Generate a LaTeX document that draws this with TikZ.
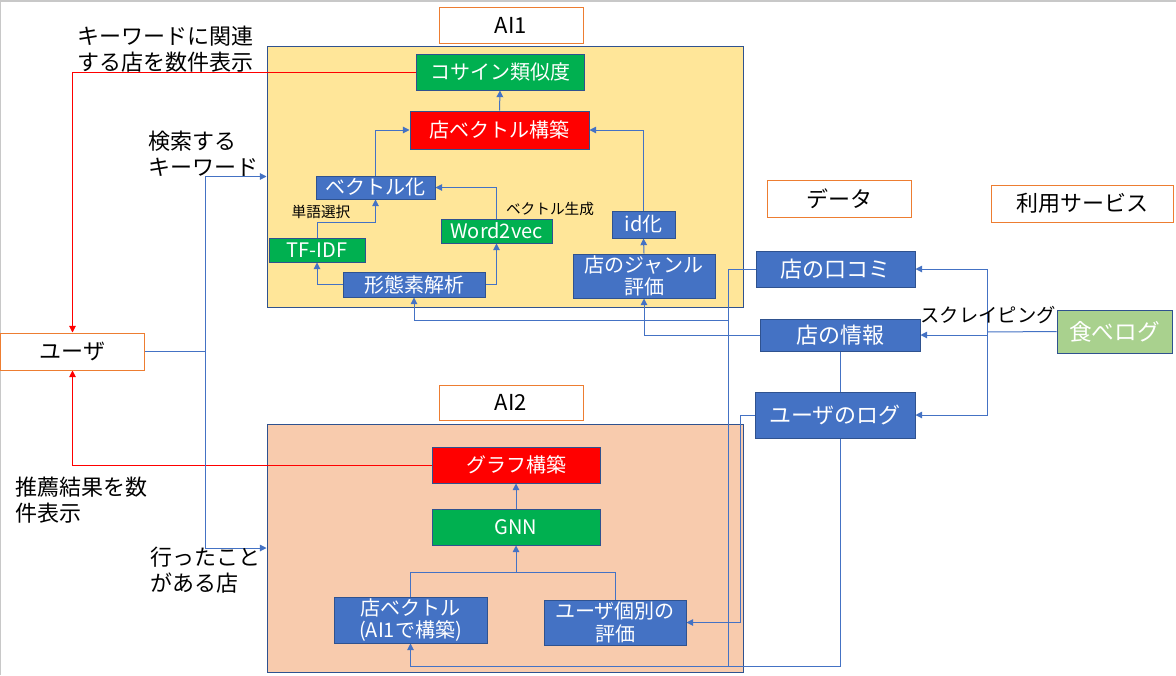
\documentclass[tikz,border=0pt]{standalone}
\usepackage{fontspec}
\setmainfont{Noto Sans CJK JP}
\usetikzlibrary{arrows.meta,calc}
\definecolor{boxblue}{HTML}{4472C4}
\definecolor{edgeblue}{HTML}{2F528F}
\definecolor{boxgreen}{HTML}{00B050}
\definecolor{boxred}{HTML}{FF0000}
\definecolor{lightgreen}{HTML}{A9D18E}
\definecolor{labelorange}{HTML}{ED7D31}
\definecolor{aionefill}{HTML}{FFE699}
\definecolor{aitwofill}{HTML}{F8CBAD}
\definecolor{framegray}{HTML}{C8C8C8}
\pgfdeclarelayer{bg}\pgfdeclarelayer{lines}\pgfsetlayers{bg,lines,main}
\begin{document}
\begin{tikzpicture}[x=0.75pt,y=-0.75pt,
 sz/.style 2 args={minimum width={(#1)*0.75pt},minimum height={(#2)*0.75pt}},
 base/.style={draw,inner sep=0pt,align=center,line width=0.75pt},
 procbox/.style={base,draw=edgeblue,fill=boxblue,text=white,font=\fontsize{15}{16}\selectfont},
 greenbox/.style={procbox,fill=boxgreen},
 redbox/.style={procbox,fill=boxred},
 databox/.style={procbox,font=\fontsize{16.5}{18}\selectfont},
 labelbox/.style={base,draw=labelorange,fill=white,text=black,font=\fontsize{16.5}{18}\selectfont},
 container/.style={base,draw=edgeblue},
 note/.style={inner sep=0pt,align=left,anchor=west,text=black,font=\fontsize{16.5}{19.5}\selectfont},
 smallnote/.style={inner sep=0pt,text=black,font=\fontsize{11}{13}\selectfont},
 conn/.style={draw=boxblue,line width=0.75pt,-{Triangle[length=5pt,width=5pt]}},
 wire/.style={draw=boxblue,line width=0.75pt},
 redconn/.style={draw=boxred,line width=0.75pt,-{Triangle[length=5pt,width=5pt]}},
]
\useasboundingbox (0,0) rectangle (1176,675);

% background and containers
\begin{pgfonlayer}{bg}
\fill[white] (0,0) rectangle (1176,675);
\draw[framegray,line width=1.2pt] (0.6,675) -- (0.6,1) -- (1176,1);
\node[container,fill=aionefill,sz={476}{261}] (ai1) at (505,176.5) {};
\node[container,fill=aitwofill,sz={476}{248}] (ai2) at (505,548) {};
\end{pgfonlayer}

% labels
\node[labelbox,sz={144}{36}] (lai1) at (511,25) {AI1};
\node[labelbox,sz={144}{35}] (lai2) at (511,402.5) {AI2};
\node[labelbox,sz={144}{37}] (ldata) at (839,198.5) {データ};
\node[labelbox,sz={182}{37}] (lserv) at (1082,203.5) {利用サービス};
\node[labelbox,sz={144}{37}] (user) at (72.5,351.5) {ユーザ};

% AI1 boxes
\node[greenbox,sz={168}{36}] (cos) at (500,72) {コサイン類似度};
\node[redbox,sz={179}{38}] (shopvec) at (499.5,130) {店ベクトル構築};
\node[procbox,sz={119}{23}] (vec) at (375.5,187.5) {ベクトル化};
\node[greenbox,sz={96}{24}] (tfidf) at (317,250) {TF-IDF};
\node[greenbox,sz={111}{24}] (w2v) at (496.5,231) {Word2vec};
\node[procbox,sz={142}{25}] (morph) at (414,284.5) {形態素解析};
\node[procbox,sz={63}{27}] (idx) at (643.5,224.5) {id化};
\node[procbox,sz={142}{44},font=\fontsize{15}{16}\selectfont] (genre) at (644,276) {店のジャンル\\評価};

% AI2 boxes
\node[redbox,sz={168}{36}] (graph) at (516,465) {グラフ構築};
\node[greenbox,sz={168}{36}] (gnn) at (516,527) {GNN};
\node[procbox,sz={153}{46},font=\fontsize{15}{17}\selectfont] (sv2) at (410.5,620) {店ベクトル\\(AI1で構築)};
\node[procbox,sz={142}{45},font=\fontsize{15}{17.5}\selectfont] (uev) at (615,622.5) {ユーザ個別の\\評価};

% data boxes
\node[databox,sz={159}{36}] (review) at (835.5,269) {店の口コミ};
\node[databox,sz={160}{32}] (info) at (840,335) {店の情報};
\node[databox,sz={160}{46}] (log) at (835,415) {ユーザのログ};
\node[procbox,fill=lightgreen,sz={115}{43},font=\fontsize{17}{18}\selectfont] (tabelog) at (1114.5,331.5) {食べログ};

% notes
\node[note] (n1) at (77,49) {キーワードに関連\\する店を数件表示};
\node[note] (n2) at (148,154) {検索する\\キーワード};
\node[note] (n3) at (15,500) {推薦結果を数\\件表示};
\node[note] (n4) at (150,570) {行ったこと\\がある店};
\node[smallnote] (n5) at (321,212) {単語選択};
\node[smallnote] (n6) at (550,209) {ベクトル生成};
\node[smallnote,font=\fontsize{14.5}{16}\selectfont] (n7) at (988,315) {スクレイピング};

% coordinates
\coordinate (split) at (205,351.5);
\coordinate (scr) at (987,332);
\coordinate (rv) at (728,320);
\coordinate (bt) at (728,666);
\coordinate (bt2) at (840,666);
\coordinate (join) at (516,572);

\begin{pgfonlayer}{lines}
% AI1 internal
\draw[conn] (shopvec.north) -- (cos.south);
\draw[conn] (vec.north) |- (shopvec.west);
\draw[conn] (tfidf.north) |- ($(vec.south)+(0,23)$) -| (vec.south);
\draw[conn] (morph.west) -| (tfidf.south);
\draw[conn] (morph.east) -| (w2v.south);
\draw[conn] (w2v.north) |- (vec.east);
\draw[conn] (idx.north) |- (shopvec.east);
\draw[conn] (genre.north) -- (idx.south);
% AI2 internal
\draw[conn] (gnn.north) -- (graph.south);
\draw[wire] (sv2.north) |- (join);
\draw[wire] (uev.north) |- (join);
\draw[conn] (join) -- (gnn.south);
% user
\draw[redconn] (cos.west) -| (user.north);
\draw[redconn] (graph.west) -| (user.south);
\draw[wire] (user.east) -- (split);
\draw[conn] (split) |- (ai1.west);
\draw[conn] (split) |- (ai2.west);
% scraping
\draw[wire] (tabelog.west) -- (scr);
\draw[conn] (scr) |- (review.east);
\draw[conn] (scr) |- (info.east);
\draw[conn] (scr) |- (log.east);
% data to AIs
\draw[conn] (review.west) -| (rv) -| (morph.south);
\draw[conn] (review.west) -| (bt) -| (sv2.south);
\draw[wire] (info.south) -- (bt2) -- (bt);
\draw[conn] (info.west) -| (genre.south);
\draw[conn] (log.west) -| ($(uev.east)+(54,0)$) -- (uev.east);
\end{pgfonlayer}
\end{tikzpicture}
\end{document}
